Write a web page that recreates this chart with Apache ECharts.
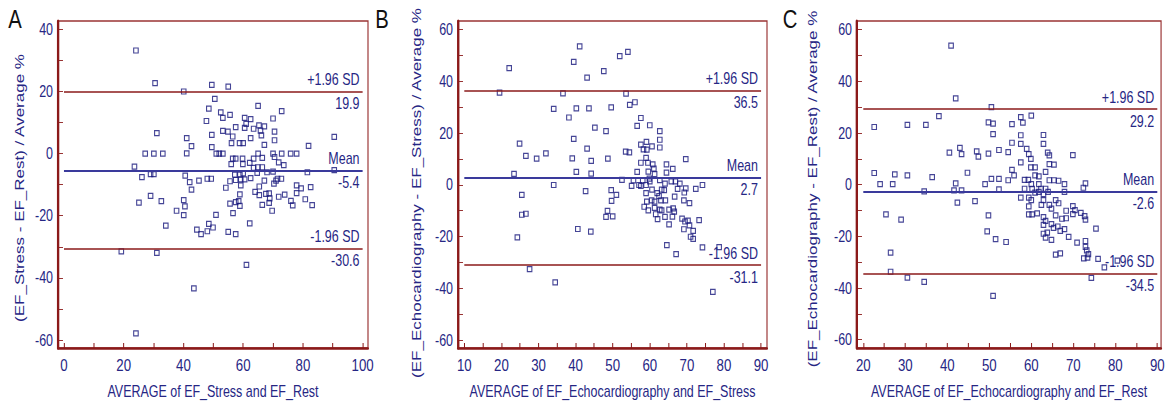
<!DOCTYPE html>
<html><head><meta charset="utf-8">
<script src="https://cdn.jsdelivr.net/npm/echarts@6/dist/echarts.min.js"></script>
<style>
html,body{margin:0;padding:0;background:#fff;overflow:hidden;width:1167px;height:404px}
#wrap{width:1167px;height:404px;overflow:hidden;position:relative}
#c{position:absolute;left:0;top:0;height:404px;transform-origin:0 0}
</style>
</head><body><div id="wrap"><div id="c"></div></div><script>
const panelLetters = ['A', 'B', 'C'];
const xTitles = ['AVERAGE of EF_Stress and EF_Rest', 'AVERAGE of EF_Echocardiography and EF_Stress', 'AVERAGE of EF_Echocardiography and EF_Rest'];
const yTitles = ['(EF_Stress - EF_Rest) / Average %', '(EF_Echocardiography - EF_Stress) / Average %', '(EF_Echocardiography - EF_Rest) / Average %'];

const aX = [24.1,30.5,40.1,49.5,55.0,50.5,48.5,65.0,72.9,52.5,53.2,55.6,47.7,60.5,62.5,61.0,70.0,57.5,60.5,63.5,65.3,67.1,65.8,66.1,70.5,53.2,54.9,56.5,49.5,31.1,41.1,42.7,41.1,49.5,56.1,58.8,60.0,62.5,67.1,70.5,81.9,90.5,27.2,30.1,33.1,51.0,52.0,53.2,65.0,70.0,72.9,75.9,77.9,56.5,57.5,59.8,63.5,66.4,70.5,71.9,73.6,56.0,59.9,62.2,63.5,64.9,66.4,64.7,68.0,70.0,23.6,26.1,29.0,30.1,40.6,42.1,42.7,45.2,48.0,49.3,54.2,55.6,57.2,57.5,59.2,59.2,60.5,58.9,60.0,62.5,67.1,65.4,64.0,65.4,67.6,68.7,70.3,71.0,71.5,72.8,68.9,71.9,73.9,77.9,79.4,77.9,82.6,81.5,90.5,76.0,76.6,80.8,83.1,66.4,68.7,69.7,58.9,58.5,57.5,58.9,55.6,56.6,50.9,40.1,40.5,40.1,37.7,32.6,29.0,25.1,34.1,44.5,45.9,48.0,48.5,49.9,55.0,57.5,62.2,19.2,31.1,61.1,43.5,24.1];
const aY = [33.2,22.7,20.0,22.1,21.6,17.6,14.5,15.4,13.7,13.3,11.5,12.5,10.5,11.5,11.1,9.6,11.3,8.5,8.3,8.0,9.1,8.8,7.4,5.9,7.1,7.3,7.1,5.5,6.0,6.6,5.0,2.4,0.1,2.1,3.4,3.4,3.4,5.0,2.8,4.3,2.5,5.4,0,0,0,0,0,0,0,0,0,0,0,-1.6,-1.6,-1.6,-1.6,-1.4,-1.1,-2.8,-3.7,-3.4,-3.4,-3.0,-4.6,-4.4,-4.4,-6.2,-6.0,-5.8,-4.2,-7.6,-6.6,-6.6,-7.1,-9.2,-11.6,-8.7,-8.1,-8.1,-11.0,-8.9,-6.8,-8.5,-8.3,-10.2,-8.3,-6.8,-6.4,-7.9,-8.7,-10.6,-12.3,-13.4,-13.0,-12.8,-9.7,-8.7,-8.1,-8.1,-14.4,-13.9,-13.2,-10.2,-11.2,-12.7,-10.8,-6.0,-5.3,-15.2,-16.7,-14.7,-16.6,-16.5,-15.9,-18.4,-13.1,-15.3,-15.6,-16.8,-16.1,-19.2,-19.7,-15.0,-17.0,-19.8,-18.4,-15.3,-13.6,-15.8,-23.2,-24.5,-25.9,-25.0,-22.6,-23.8,-25.2,-25.9,-22.5,-31.5,-32.0,-35.8,-43.4,-57.9];

const bX = [22.1,19.5,41.1,39.5,43.1,47.6,51.9,54.1,36.6,53.6,54.6,56.0,34.1,40.2,43.6,49.6,38.2,57.6,45.2,48.2,56.6,60.0,62.7,62.7,62.7,39.5,24.9,26.6,29.5,32.0,39.1,43.1,44.2,48.7,53.5,54.5,57.6,59.1,58.3,59.2,60.6,59.0,57.6,59.5,60.8,61.1,56.6,59.6,59.9,61.3,64.5,66.2,69.7,64.5,23.4,40.2,44.2,34.1,52.5,55.1,55.6,57.1,58.1,59.0,60.0,62.7,64.1,65.8,66.9,68.1,67.5,69.3,69.7,72.4,74.2,25.5,42.7,49.6,49.7,51.0,57.6,59.0,60.6,62.0,63.2,63.9,62.5,60.5,61.3,63.0,64.2,66.7,69.2,70.7,59.2,58.5,59.6,61.3,62.7,63.2,65.2,66.3,66.6,61.6,62.1,64.1,66.1,68.7,69.5,69.2,70.3,70.7,71.7,71.0,71.7,73.3,65.2,48.6,48.2,50.0,25.5,26.6,24.3,40.6,44.1,64.6,67.1,74.2,78.7,27.6,34.5,77.0];
const bY = [45.1,35.6,53.5,47.5,41.4,43.9,49.7,51.4,35.3,35.2,30.9,31.9,29.3,29.5,29.5,29.9,26.0,25.8,22.1,20.7,22.8,23.0,20.7,17.4,14.4,17.7,15.9,11.2,10.1,12.1,10.2,14.0,9.2,10.1,12.8,12.5,15.5,16.6,13.7,13.6,14.8,10.4,8.5,8.5,7.9,6.2,5.0,5.1,2.4,4.1,7.9,6.1,9.9,4.7,4.2,5.0,4.3,-0.1,1.9,-0.4,1.7,-0.1,1.7,-0.1,1.3,1.8,0.4,1.3,1.3,0.4,-1.6,-3.0,-1.4,-1.6,-0.1,-3.9,-2.5,-2.1,-6.2,-3.9,-0.4,-3.2,-1.9,-3.2,-1.9,-2.1,-4.4,-6.0,-6.5,-6.0,-6.0,-4.6,-6.0,-7.1,-6.5,-8.5,-9.9,-8.9,-9.6,-9.9,-9.6,-9.1,-10.4,-11.4,-13.3,-12.4,-12.3,-13.1,-14.2,-17.2,-13.9,-15.7,-17.8,-20.1,-20.9,-13.7,-15.3,-10.1,-12.4,-12.2,-11.6,-11.2,-20.3,-17.1,-18.1,-23.3,-26.8,-24.2,-24.1,-32.6,-37.7,-41.4];

const cX = [40.9,42.0,50.5,38.0,57.5,60.0,58.0,55.4,49.8,50.9,50.9,22.6,30.5,34.9,57.5,62.9,62.9,55.4,57.5,58.9,59.4,59.9,63.9,64.3,64.3,65.4,69.9,43.0,43.4,40.5,47.0,47.4,49.8,52.3,54.5,57.5,59.9,60.9,55.4,55.9,60.9,61.8,63.4,22.6,27.5,30.5,36.4,44.8,24.0,27.0,42.0,49.0,50.5,52.3,54.5,58.4,59.3,60.0,61.8,64.3,65.4,66.5,67.9,72.9,72.4,34.5,41.6,43.4,52.3,58.4,60.2,60.9,62.3,63.4,64.0,61.8,62.9,67.9,42.4,46.6,57.5,59.4,60.0,62.9,65.8,62.4,64.3,66.5,64.8,59.4,59.4,60.2,61.4,62.9,63.4,65.8,67.3,68.3,68.3,69.9,70.4,69.9,71.8,72.9,72.7,75.4,62.9,64.8,65.3,66.3,67.9,66.9,68.9,62.9,63.8,63.4,64.8,70.9,72.9,72.9,73.2,73.6,73.4,72.5,75.9,77.4,80.5,74.3,65.8,66.9,25.4,29.0,49.8,49.5,51.5,54.0,26.5,26.5,30.5,34.5,50.9];
const cY = [53.8,33.4,30.0,26.5,26.1,26.7,24.0,23.4,24.1,23.6,19.5,22.3,23.1,23.1,19.1,19.2,15.8,16.2,15.8,13.8,11.8,10.0,12.4,11.3,7.9,7.7,11.4,14.2,11.8,12.4,12.9,10.8,12.0,13.4,12.6,8.6,6.7,6.7,5.7,3.6,3.6,3.2,4.9,4.5,4.0,3.6,2.9,4.6,0.2,0.2,0.5,0.2,2.2,2.2,1.7,1.8,1.8,0.2,0.2,1.7,1.7,1.5,0.2,0.5,-1.2,-2.6,-2.2,-2.2,-1.8,-1.6,-1.6,-3.1,-1.6,-1.6,-2.8,-2.8,-3.7,-2.8,-7.0,-6.4,-5.0,-5.0,-6.0,-6.0,-6.0,-7.8,-7.8,-7.2,-9.3,-8.4,-11.5,-11.5,-11.1,-12.6,-14.0,-11.9,-13.2,-10.1,-13.0,-8.3,-9.9,-11.4,-10.9,-13.5,-12.2,-17.0,-15.6,-15.3,-16.7,-16.2,-17.2,-17.9,-20.2,-19.0,-18.6,-20.5,-21.4,-22.4,-21.8,-24.1,-25.4,-26.9,-28.2,-28.5,-28.7,-32.0,-29.4,-36.1,-27.1,-26.6,-11.5,-13.5,-11.9,-18.1,-21.1,-22.2,-26.3,-33.7,-36.0,-37.6,-43.0];

const meanVals = [-5.4, 2.7, -2.6];
const upperVals = [19.9, 36.5, 29.2];
const lowerVals = [-30.6, -31.1, -34.5];

const xTickVals = [
  [0,10,20,30,40,50,60,70,80,90,100],
  [10,15,20,25,30,35,40,45,50,55,60,65,70,75,80,85,90],
  [20,25,30,35,40,45,50,55,60,65,70,75,80,85,90]
];
const xLabelVals = [
  [0,20,40,60,80,100],
  [10,20,30,40,50,60,70,80,90],
  [20,30,40,50,60,70,80,90]
];
const yTickVals = [
  [-60,-50,-40,-30,-20,-10,0,10,20,30,40],
  [-60,-50,-40,-30,-20,-10,0,10,20,30,40,50,60],
  [-60,-50,-40,-30,-20,-10,0,10,20,30,40,50,60]
];
const yLabelVals = [
  [-60,-40,-20,0,20,40],
  [-60,-40,-20,0,20,40,60],
  [-60,-40,-20,0,20,40,60]
];

const seriesX = [aX, bX, cX];
const seriesY = [aY, bY, cY];

// The reference picture is horizontally condensed; draw wider and squeeze with CSS.
const S = 0.78;
const W = 1167, H = 404;
const el = document.getElementById('c');
el.style.width = (W / S) + 'px';
el.style.transform = 'scaleX(' + S + ')';
const px = v => v / S;   // page x -> chart x

// layout (page pixels)
const grids = [
  {left: 58, top: 21, width: 310, height: 331},
  {left: 458, top: 21, width: 309, height: 331},
  {left: 857, top: 21, width: 309, height: 331}
];
const xRanges = [[-2.0, 101.8], [8.3, 91.6], [18.5, 90.9]];
const yRanges = [[-62.6, 42.7], [-63.1, 63.3], [-63.2, 63.3]];
const yTitlePos = [[19, 188], [416, 193], [812, 189]];
const letterPos = [[15, 19], [382, 19], [790, 19]];

const NAVY = '#262684';
const DKRED = '#8b1a1a';
const FONT = "'Liberation Sans', Arial, sans-serif";

const option = {
  animation: false,
  backgroundColor: '#fff',
  grid: grids.map(g => ({show: true, borderColor: '#9a3434', borderWidth: 1.5, backgroundColor: 'transparent',
    left: px(g.left), width: px(g.width), top: g.top, height: g.height})),
  xAxis: grids.map((g, i) => ({
    type: 'value', gridIndex: i, min: xRanges[i][0], max: xRanges[i][1],
    axisLine: {show: true, onZero: false, lineStyle: {color: DKRED, width: 2.5}},
    axisTick: {show: true, inside: true, length: 5, customValues: xTickVals[i], lineStyle: {color: DKRED, width: 1.3}},
    axisLabel: {customValues: xLabelVals[i], color: NAVY, fontSize: 17, margin: 8, fontFamily: FONT},
    splitLine: {show: false},
    name: xTitles[i], nameLocation: 'middle', nameGap: 35,
    nameTextStyle: {color: NAVY, fontSize: 16, fontFamily: FONT}
  })),
  yAxis: grids.map((g, i) => ({
    type: 'value', gridIndex: i, min: yRanges[i][0], max: yRanges[i][1],
    axisLine: {show: true, onZero: false, lineStyle: {color: DKRED, width: 3}},
    axisTick: {show: true, inside: true, length: px(5), customValues: yTickVals[i], lineStyle: {color: DKRED, width: 1}},
    axisLabel: {customValues: yLabelVals[i], color: NAVY, fontSize: 16, margin: px(5), fontFamily: FONT},
    splitLine: {show: false}
  })),
  graphic: [
    ...yTitles.map((t, i) => ({
      type: 'text', x: px(yTitlePos[i][0]), y: yTitlePos[i][1], rotation: Math.PI / 2,
      style: {text: t, fill: NAVY, font: '17px ' + FONT, align: 'center', verticalAlign: 'middle'}
    })),
    ...panelLetters.map((t, i) => ({
      type: 'text', x: px(letterPos[i][0]), y: letterPos[i][1],
      style: {text: t, fill: '#111', font: '26px ' + FONT, align: 'center', verticalAlign: 'middle'}
    }))
  ],
  series: grids.map((g, i) => {
    const x0 = xTickVals[i][0], x1 = xTickVals[i][xTickVals[i].length - 1];
    const lbl = {color: NAVY, fontSize: 16, fontFamily: FONT, distance: 4};
    const pair = (y, color, w, topText, botText) => [
      [{coord: [x0, y], lineStyle: {color: color, width: w, type: 'solid'}, label: Object.assign({show: true, position: 'insideEndTop', formatter: topText}, lbl)}, {coord: [x1, y]}],
      [{coord: [x0, y], lineStyle: {color: 'rgba(0,0,0,0)', width: 1, type: 'solid'}, label: Object.assign({show: true, position: 'insideEndBottom', formatter: botText}, lbl)}, {coord: [x1, y]}]
    ];
    return {
      type: 'scatter', xAxisIndex: i, yAxisIndex: i,
      data: seriesX[i].map((x, k) => [x, seriesY[i][k]]),
      symbol: 'rect', symbolSize: [5.8, 5],
      itemStyle: {color: 'rgba(255,255,255,0)', borderColor: '#16167c', borderWidth: 1.3},
      silent: true,
      markLine: {
        silent: true, symbol: 'none', animation: false,
        data: [
          ...pair(upperVals[i], DKRED, 1.5, '+1.96 SD', String(upperVals[i])),
          ...pair(meanVals[i], '#3a3a9c', 2, 'Mean', String(meanVals[i])),
          ...pair(lowerVals[i], DKRED, 1.5, '-1.96 SD', String(lowerVals[i]))
        ]
      }
    };
  })
};
const chart = echarts.init(el, null, {renderer: 'svg', width: W / S, height: H});
chart.setOption(option);
</script></body></html>
